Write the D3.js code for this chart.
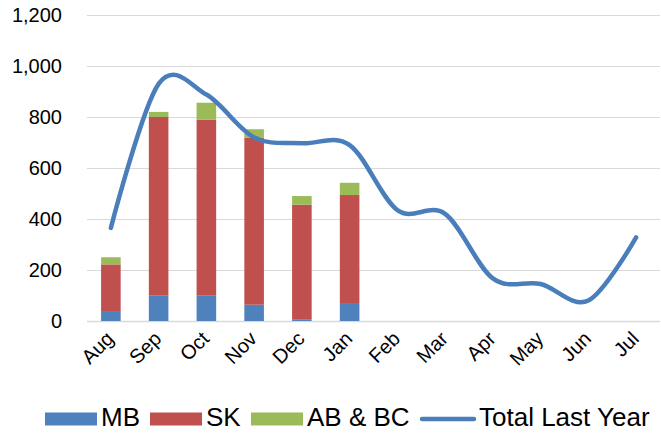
<!DOCTYPE html>
<html><head><meta charset="utf-8">
<script src="https://cdn.jsdelivr.net/npm/d3@7"></script>
<style>body{margin:0;background:#fff}svg{display:block;font-family:"Liberation Sans",Arial,sans-serif}</style>
</head><body><svg id="c" width="661" height="434"></svg>
<script>
const months = ["Aug","Sep","Oct","Nov","Dec","Jan","Feb","Mar","Apr","May","Jun","Jul"];
const mb = [39,101,101,64,7,67];
const sk = [183,699,689,655,449,427];
const abbc = [28,20,66,33,34,48];
const totalLastYear = [365,930,888,720,697,690,435,420,167,145,80,328];
const yTicks = [0,200,400,600,800,1000,1200];
const seriesNames = ["MB","SK","AB & BC","Total Last Year"];
const colors = ["#4F81BD","#C0504D","#9BBB59","#4A7EBB"];

const svg = d3.select("#c");
const x = d3.scaleBand().domain(months).range([87,660]).paddingInner(0.59).paddingOuter(0.295);
const y = d3.scaleLinear().domain([0,1200]).range([321,15]);

// gridlines
svg.append("g").selectAll("line").data(yTicks).join("line")
  .attr("x1",87).attr("x2",660).attr("y1",d=>y(d)+0.5).attr("y2",d=>y(d)+0.5)
  .attr("stroke","#D9D9D9").attr("stroke-width",d=>d===0?1.5:1);

// y labels
svg.append("g").selectAll("text").data(yTicks).join("text")
  .attr("x",62).attr("y",d=>y(d)).attr("dy","0.35em").attr("text-anchor","end")
  .attr("font-size",20).attr("fill","#000").text(d3.format(","));

// stacked bars
const rows = mb.map((v,i)=>({month:months[i],"MB":v,"SK":sk[i],"AB & BC":abbc[i]}));
const stack = d3.stack().keys(["MB","SK","AB & BC"])(rows);
svg.append("g").selectAll("g").data(stack).join("g").attr("fill",(d,i)=>colors[i])
  .selectAll("rect").data(d=>d).join("rect")
  .attr("x",d=>x(d.data.month)).attr("width",x.bandwidth())
  .attr("y",d=>y(d[1])).attr("height",d=>y(d[0])-y(d[1]));

// line
const line = d3.line().x((d,i)=>x(months[i])+x.bandwidth()/2).y(d=>y(d)).curve(d3.curveCatmullRom.alpha(0));
svg.append("path").datum(totalLastYear).attr("d",line).attr("fill","none")
  .attr("stroke",colors[3]).attr("stroke-width",4.5).attr("stroke-linecap","round").attr("stroke-linejoin","round");

// x labels
svg.append("g").selectAll("text").data(months).join("text")
  .attr("transform",d=>`translate(${x(d)+x.bandwidth()/2+4},${340}) rotate(-45)`)
  .attr("text-anchor","end").attr("font-size",20).attr("fill","#000").text(d=>d);

// legend
const lg = svg.append("g");
const legendX = [45,150,251,420];
const textX = [101,206,307,479];
seriesNames.forEach((n,i)=>{
  if(i<3){
    lg.append("rect").attr("x",legendX[i]).attr("y",412.5).attr("width",52).attr("height",13).attr("fill",colors[i]);
  } else {
    lg.append("line").attr("x1",legendX[i]+2).attr("x2",legendX[i]+54).attr("y1",419).attr("y2",419)
      .attr("stroke",colors[i]).attr("stroke-width",4.5).attr("stroke-linecap","round");
  }
  lg.append("text").attr("x",textX[i]).attr("y",426).attr("font-size",26).attr("fill","#000").text(n);
});
</script></body></html>
